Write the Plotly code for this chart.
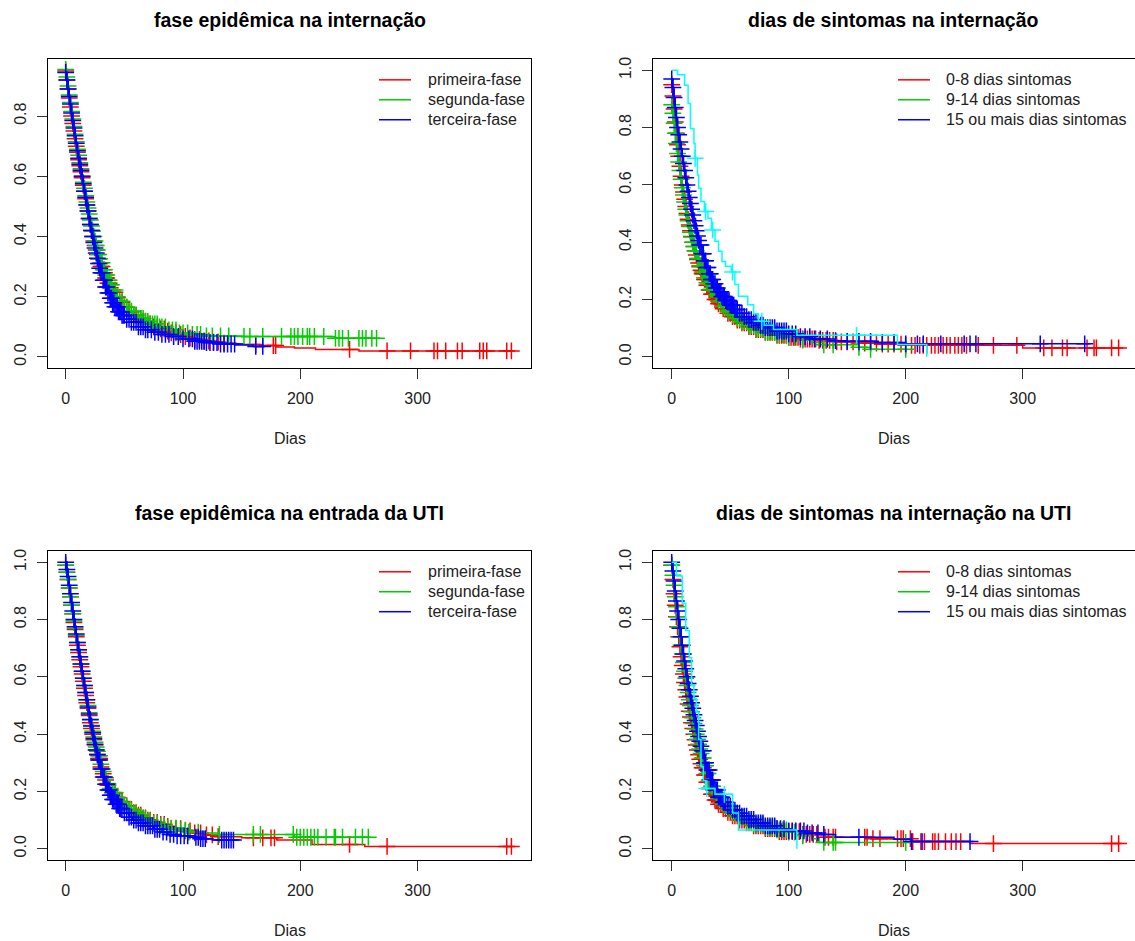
import plotly.graph_objects as go

# ---------------- DATA ----------------
titles = ["fase epidêmica na internação", "dias de sintomas na internação",
          "fase epidêmica na entrada da UTI", "dias de sintomas na internação na UTI"]
legend_fase = ["primeira-fase", "segunda-fase", "terceira-fase"]
legend_sint = ["0-8 dias sintomas", "9-14 dias sintomas", "15 ou mais dias sintomas"]
x_ticks = [0, 100, 200, 300]
y_ticks_p1 = [0.0, 0.2, 0.4, 0.6, 0.8]
y_ticks = [0.0, 0.2, 0.4, 0.6, 0.8, 1.0]

# Panel 1: fase epidêmica na internação
p1_red_t = [0,1,2,3,4,5,6,7,8,9,10,11,12,13,14,15,16,17,18,19,20,21,22,23,24,25,26,27,28,29,30,32,34,36,38,40,43,46,50,54,58,62,66,70,75,80,85,90,95,100,105,110,118,126,135,145,152,165,180,195,213,250,381]
p1_red_s = [0.95,0.92,0.89,0.86,0.83,0.80,0.775,0.75,0.725,0.70,0.68,0.655,0.635,0.615,0.595,0.57,0.55,0.525,0.505,0.485,0.46,0.44,0.42,0.40,0.385,0.37,0.355,0.34,0.325,0.31,0.30,0.28,0.262,0.245,0.23,0.215,0.197,0.182,0.165,0.15,0.138,0.128,0.119,0.11,0.10,0.093,0.086,0.08,0.074,0.068,0.063,0.058,0.053,0.049,0.046,0.043,0.041,0.038,0.033,0.030,0.025,0.02,0.02]
p1_red_c = [0,1,2,3,4,5,6,7,8,9,10,11,12,13,14,15,16,17,18,19,20,21,22,23,24,25,26,27,28,29,30,31,32,33,34,35,36,37,38,40,42,44,46,48,50,52,54,56,58,60,62,64,66,68,70,72,75,78,81,84,87,90,94,98,102,106,110,114,118,122,126,130,135,162,177,179,242,274,294,314,317,324,334,338,353,356,359,376,380]
p1_green_t = [0,1,2,3,4,5,6,7,8,9,10,11,12,13,14,15,16,17,18,19,20,21,22,23,24,25,26,27,28,29,30,32,34,36,38,40,43,46,50,53,57,62,67,72,80,87,95,105,120,150,230,265]
p1_green_s = [0.955,0.93,0.90,0.87,0.845,0.815,0.79,0.765,0.74,0.715,0.69,0.67,0.645,0.625,0.60,0.58,0.56,0.535,0.515,0.495,0.475,0.455,0.435,0.418,0.40,0.385,0.37,0.355,0.34,0.326,0.313,0.29,0.272,0.255,0.24,0.222,0.20,0.185,0.165,0.152,0.14,0.128,0.118,0.11,0.10,0.09,0.08,0.075,0.07,0.068,0.062,0.062]
p1_green_c = [0,1,2,3,4,5,6,7,8,9,10,11,12,13,14,15,16,17,18,19,20,21,22,23,24,25,26,27,28,29,30,31,32,33,34,35,36,37,38,39,40,42,44,46,48,50,52,54,56,58,60,62,64,66,68,70,72,74,76,78,80,82,85,88,91,94,97,100,104,108,112,115,120,125,132,139,152,157,168,184,192,195,198,202,206,208,212,220,230,233,236,241,250,253,256,261,265]
p1_blue_t = [0,1,2,3,4,5,6,7,8,9,10,11,12,13,14,15,16,17,18,19,20,21,22,23,24,25,26,27,28,29,30,32,34,36,38,40,42,45,48,52,56,62,68,75,82,90,100,110,120,130,145,160,170]
p1_blue_s = [0.945,0.92,0.89,0.865,0.84,0.81,0.785,0.76,0.735,0.71,0.685,0.66,0.64,0.62,0.60,0.575,0.55,0.53,0.505,0.485,0.46,0.44,0.42,0.40,0.38,0.362,0.345,0.328,0.31,0.295,0.28,0.255,0.232,0.212,0.195,0.18,0.167,0.15,0.138,0.125,0.115,0.10,0.09,0.082,0.075,0.068,0.06,0.052,0.048,0.043,0.04,0.035,0.035]
p1_blue_c = [0,1,2,3,4,5,6,7,8,9,10,11,12,13,14,15,16,17,18,19,20,21,22,23,24,25,26,27,28,29,30,31,32,33,34,35,36,37,38,39,40,41,42,43,44,45,46,47,48,49,50,52,54,56,58,60,62,64,66,68,70,73,76,79,82,85,88,92,96,100,105,108,110,112,114,116,118,120,123,126,129,132,135,138,141,144,162,168]

# Panel 2: dias de sintomas na internação
p2_red_t = [0,1,2,3,4,5,6,7,8,9,10,11,12,13,14,15,16,17,18,19,20,21,22,23,24,25,26,28,30,32,34,37,40,44,48,52,56,60,66,72,80,90,100,110,125,140,160,180,200,300,386]
p2_red_s = [0.95,0.91,0.865,0.82,0.78,0.74,0.70,0.665,0.63,0.60,0.575,0.55,0.525,0.50,0.48,0.46,0.44,0.42,0.40,0.385,0.37,0.355,0.34,0.327,0.314,0.302,0.29,0.27,0.25,0.233,0.218,0.20,0.185,0.168,0.152,0.14,0.128,0.118,0.105,0.095,0.085,0.075,0.068,0.062,0.057,0.052,0.048,0.044,0.04,0.031,0.031]
p2_red_c = [0,1,2,3,4,5,6,7,8,9,10,11,12,13,14,15,16,17,18,19,20,21,22,23,24,25,26,27,28,29,30,31,32,33,34,35,36,37,38,39,40,42,44,46,48,50,52,54,56,58,60,62,64,66,68,70,72,74,76,78,80,82,84,86,88,90,92,94,96,98,100,102,104,106,108,110,112,114,116,118,120,123,126,129,132,135,138,141,145,150,155,160,165,170,175,180,185,190,196,200,205,208,212,215,218,222,225,228,232,235,238,242,245,248,252,262,275,295,318,325,334,338,355,361,363,376,382]
p2_green_t = [0,1,2,3,4,5,6,7,8,9,10,11,12,13,14,15,16,17,18,19,20,22,24,26,28,30,33,36,40,44,48,52,56,60,66,72,80,90,100,110,120,130,160,170,200]
p2_green_s = [0.88,0.85,0.815,0.78,0.745,0.71,0.68,0.65,0.62,0.59,0.565,0.54,0.515,0.495,0.475,0.455,0.435,0.418,0.40,0.385,0.37,0.343,0.318,0.296,0.276,0.258,0.235,0.216,0.195,0.177,0.16,0.146,0.134,0.123,0.11,0.098,0.087,0.077,0.068,0.058,0.05,0.042,0.033,0.026,0.026]
p2_green_c = [0,1,2,3,4,5,6,7,8,9,10,11,12,13,14,15,16,17,18,19,20,21,22,23,24,25,26,27,28,29,30,31,32,33,34,35,38,40,42,44,46,48,50,52,54,56,58,60,62,64,66,68,70,72,74,76,78,80,82,84,86,88,90,92,95,98,100,105,112,130,138,160,170,200]
p2_blue_t = [0,1,2,3,4,5,6,7,8,9,10,11,12,13,14,15,16,17,18,19,20,21,22,23,24,26,28,30,32,34,36,38,40,43,46,50,54,58,62,66,70,75,80,90,100,110,120,135,150,175,200,358]
p2_blue_s = [0.97,0.94,0.905,0.87,0.835,0.80,0.775,0.75,0.725,0.70,0.675,0.65,0.625,0.60,0.578,0.556,0.535,0.515,0.495,0.475,0.457,0.44,0.422,0.406,0.39,0.36,0.335,0.312,0.29,0.27,0.255,0.24,0.227,0.21,0.196,0.18,0.165,0.152,0.14,0.13,0.12,0.11,0.102,0.09,0.08,0.07,0.062,0.056,0.054,0.05,0.045,0.045]
p2_blue_c = [0,1,2,3,4,5,6,7,8,9,10,11,12,13,14,15,16,17,18,19,20,21,22,23,24,25,26,27,28,29,30,31,32,33,34,35,36,37,38,39,40,41,42,43,44,45,46,47,48,49,50,51,52,53,54,55,56,58,60,62,64,66,68,70,72,74,76,78,80,82,84,86,88,90,92,94,96,98,100,103,106,110,114,118,122,127,133,140,150,160,170,180,190,200,210,215,230,250,255,260,315,353]
p2_cyan_t = [0,5,11,14,16,19,20,22,23,25,28,31,34,37,40,43,46,51,54,57,65,70,74,79,87,107,193,218]
p2_cyan_s = [1.0,0.985,0.948,0.884,0.797,0.745,0.693,0.635,0.588,0.542,0.507,0.484,0.443,0.403,0.368,0.333,0.316,0.296,0.252,0.211,0.182,0.150,0.124,0.110,0.095,0.075,0.043,0.0]
p2_cyan_c = [20,29,35,52,77,158]

# Panel 3: fase epidêmica na entrada da UTI
p3_red_t = [0,1,2,3,4,5,6,7,8,9,10,11,12,13,14,15,16,17,18,19,20,21,22,23,24,25,26,27,28,30,32,34,36,38,40,43,46,50,54,58,62,66,70,75,80,85,90,100,110,120,130,150,180,210,255,381]
p3_red_s = [0.99,0.965,0.94,0.91,0.88,0.85,0.82,0.79,0.765,0.74,0.71,0.685,0.66,0.635,0.61,0.585,0.56,0.535,0.51,0.49,0.465,0.44,0.42,0.40,0.38,0.362,0.345,0.33,0.315,0.285,0.262,0.24,0.222,0.205,0.195,0.18,0.165,0.15,0.137,0.126,0.117,0.108,0.10,0.092,0.085,0.078,0.07,0.062,0.055,0.048,0.042,0.038,0.03,0.015,0.008,0.008]
p3_red_c = [0,1,2,3,4,5,6,7,8,9,10,11,12,13,14,15,16,17,18,19,20,21,22,23,24,25,26,27,28,29,30,32,34,36,38,40,42,44,46,48,50,52,54,56,58,60,62,64,66,68,70,72,75,78,81,84,87,90,94,98,102,106,110,115,120,125,130,160,168,175,178,242,274,376,380]
p3_green_t = [0,1,2,3,4,5,6,7,8,9,10,11,12,13,14,15,16,17,18,19,20,21,22,23,24,25,26,27,28,30,32,34,36,38,40,43,46,50,54,58,62,66,70,75,80,87,95,105,120,130,195,258]
p3_green_s = [0.99,0.965,0.94,0.91,0.88,0.85,0.82,0.795,0.77,0.745,0.72,0.695,0.67,0.645,0.62,0.595,0.57,0.545,0.52,0.50,0.475,0.452,0.43,0.41,0.39,0.372,0.355,0.34,0.325,0.295,0.27,0.248,0.228,0.21,0.196,0.178,0.162,0.147,0.134,0.123,0.113,0.104,0.096,0.088,0.08,0.072,0.065,0.058,0.055,0.05,0.04,0.04]
p3_green_c = [0,1,2,3,4,5,6,7,8,9,10,11,12,13,14,15,16,17,18,19,20,21,22,23,24,25,26,27,28,29,30,32,34,36,38,40,42,44,46,48,50,52,54,56,58,60,62,64,66,68,70,72,75,78,81,84,87,90,94,98,102,105,113,131,160,166,194,197,200,203,206,209,212,215,222,229,230,236,247,253,258]
p3_blue_t = [0,1,2,3,4,5,6,7,8,9,10,11,12,13,14,15,16,17,18,19,20,21,22,23,24,25,26,27,28,30,32,34,36,38,40,43,46,50,54,57,62,68,75,82,87,95,105,115,125,143]
p3_blue_s = [1.0,0.975,0.95,0.92,0.89,0.86,0.83,0.80,0.775,0.75,0.72,0.695,0.67,0.645,0.62,0.595,0.57,0.545,0.52,0.495,0.47,0.45,0.428,0.405,0.385,0.365,0.345,0.328,0.31,0.278,0.25,0.225,0.205,0.187,0.172,0.155,0.14,0.125,0.11,0.10,0.09,0.08,0.068,0.058,0.05,0.045,0.04,0.035,0.03,0.03]
p3_blue_c = [0,1,2,3,4,5,6,7,8,9,10,11,12,13,14,15,16,17,18,19,20,21,22,23,24,25,26,27,28,29,30,31,32,33,34,35,36,37,38,39,40,41,42,43,44,45,46,47,48,50,52,54,56,58,60,62,64,66,68,70,72,74,76,78,80,83,86,89,92,95,98,101,104,111,113,115,117,119,133,135,137,139,141,143]

# Panel 4: dias de sintomas na internação na UTI
p4_red_t = [0,1,2,3,4,5,6,7,8,9,10,11,12,13,14,15,16,17,18,19,20,21,22,23,24,25,26,28,30,32,34,37,40,44,48,52,57,63,70,80,91,110,130,170,205,255,385]
p4_red_s = [0.99,0.94,0.89,0.85,0.81,0.775,0.74,0.705,0.67,0.64,0.61,0.58,0.555,0.53,0.505,0.48,0.46,0.44,0.42,0.40,0.38,0.362,0.345,0.328,0.312,0.297,0.283,0.257,0.232,0.21,0.19,0.17,0.155,0.14,0.127,0.115,0.10,0.09,0.08,0.07,0.06,0.05,0.04,0.035,0.025,0.018,0.018]
p4_red_c = [0,1,2,3,4,5,6,7,8,9,10,11,12,13,14,15,16,17,18,19,20,21,22,23,24,25,26,27,28,29,30,31,32,33,34,35,36,37,38,39,40,42,44,46,48,50,52,54,56,58,60,62,64,66,68,70,72,74,76,78,80,82,84,86,88,90,92,94,96,98,100,103,106,109,112,115,118,121,124,131,134,138,140,165,167,172,178,193,196,198,204,206,213,216,223,225,228,234,239,243,247,275,376,382]
p4_green_t = [0,1,2,3,4,5,6,7,8,9,10,11,12,13,14,15,16,17,18,19,20,21,22,23,24,25,26,28,30,32,34,37,40,44,48,52,57,63,70,80,90,100,112,120,126,200]
p4_green_s = [0.99,0.955,0.92,0.88,0.845,0.81,0.775,0.74,0.71,0.68,0.65,0.62,0.595,0.57,0.545,0.52,0.50,0.478,0.457,0.437,0.418,0.40,0.382,0.365,0.348,0.332,0.317,0.29,0.263,0.24,0.218,0.195,0.175,0.155,0.138,0.124,0.11,0.097,0.086,0.075,0.066,0.058,0.045,0.035,0.022,0.022]
p4_green_c = [0,1,2,3,4,5,6,7,8,9,10,11,12,13,14,15,16,17,18,19,20,21,22,23,24,25,26,27,28,29,30,31,32,33,34,35,38,40,42,44,46,48,50,52,54,56,58,60,62,64,66,68,70,72,74,76,78,80,82,84,86,88,90,92,95,98,100,105,112,130,138,140,200]
p4_blue_t = [0,1,2,3,4,5,6,7,8,9,10,11,12,13,14,15,16,17,18,19,20,21,22,23,24,25,26,28,30,33,36,40,44,48,52,56,60,66,72,80,90,100,115,128,140,190,205,258]
p4_blue_s = [1.0,0.97,0.935,0.90,0.865,0.83,0.80,0.77,0.74,0.71,0.68,0.655,0.628,0.60,0.577,0.555,0.532,0.51,0.49,0.468,0.448,0.43,0.41,0.392,0.375,0.358,0.342,0.30,0.275,0.24,0.205,0.18,0.162,0.148,0.135,0.124,0.114,0.102,0.09,0.08,0.07,0.062,0.055,0.05,0.04,0.033,0.025,0.025]
p4_blue_c = [0,1,2,3,4,5,6,7,8,9,10,11,12,13,14,15,16,17,18,19,20,21,22,23,24,25,26,27,28,29,30,31,32,33,34,35,36,37,38,39,40,41,42,43,44,45,46,48,50,52,54,56,58,60,62,64,66,68,70,72,74,76,78,80,82,84,86,88,90,93,96,100,103,106,110,113,116,120,125,130,160,205,214,255]
p4_cyan_t = [0,4,9,12,15,17,19,21,23,25,27,29,37,52,57,107]
p4_cyan_s = [1.0,0.952,0.857,0.762,0.667,0.571,0.524,0.476,0.381,0.286,0.238,0.21,0.19,0.125,0.065,0.0]
p4_cyan_c = [30, 45]

# ---------------- STYLE ----------------
RED, GREEN, BLUE, CYAN = "#FF0000", "#00CD00", "#0000FF", "#00FFFF"
W, H = 1135, 941
FONT = "Liberation Sans, Arial, sans-serif"

fig = go.Figure()


def surv_at(ts, ss, t):
    v = ss[0]
    for ti, si in zip(ts, ss):
        if ti <= t:
            v = si
        else:
            break
    return v


def add_curve(ts, ss, cs, color, xa, ya):
    fig.add_trace(go.Scatter(x=ts, y=ss, mode="lines", line=dict(color=color, width=1.5, shape="hv"),
                             xaxis=xa, yaxis=ya, showlegend=False, hoverinfo="skip"))
    cy = [surv_at(ts, ss, c) for c in cs]
    fig.add_trace(go.Scatter(x=cs, y=cy, mode="markers",
                             marker=dict(symbol="cross-thin", size=12, color=color,
                                         line=dict(color=color, width=1.5)),
                             xaxis=xa, yaxis=ya, showlegend=False, hoverinfo="skip"))


panels = [
    ("x", "y", [(p1_red_t, p1_red_s, p1_red_c, RED), (p1_green_t, p1_green_s, p1_green_c, GREEN),
                (p1_blue_t, p1_blue_s, p1_blue_c, BLUE)]),
    ("x2", "y2", [(p2_red_t, p2_red_s, p2_red_c, RED), (p2_green_t, p2_green_s, p2_green_c, GREEN),
                  (p2_blue_t, p2_blue_s, p2_blue_c, BLUE), (p2_cyan_t, p2_cyan_s, p2_cyan_c, CYAN)]),
    ("x3", "y3", [(p3_red_t, p3_red_s, p3_red_c, RED), (p3_green_t, p3_green_s, p3_green_c, GREEN),
                  (p3_blue_t, p3_blue_s, p3_blue_c, BLUE)]),
    ("x4", "y4", [(p4_red_t, p4_red_s, p4_red_c, RED), (p4_green_t, p4_green_s, p4_green_c, GREEN),
                  (p4_blue_t, p4_blue_s, p4_blue_c, BLUE), (p4_cyan_t, p4_cyan_s, p4_cyan_c, CYAN)]),
]
for xa, ya, groups in panels:
    for ts, ss, cs, col in groups:
        add_curve(ts, ss, cs, col, xa, ya)

# pixel geometry -> paper
def px_x(p):
    return p / W


def px_y(p):
    return 1 - p / H

LX = (48, 531)
RX = (653, 1135)
TY = (57, 367)
BY = (550, 860)

tickfont = dict(family=FONT, size=16, color="#222222")
common_x = dict(showgrid=False, zeroline=False, showline=True, linecolor="#000000", linewidth=1,
                mirror=True, ticks="outside", ticklen=10, tickwidth=1, tickcolor="#333333",
                tickvals=x_ticks, ticktext=[str(v) for v in x_ticks], tickfont=tickfont,
                ticklabelstandoff=6)
common_y = dict(showgrid=False, zeroline=False, showline=True, linecolor="#000000", linewidth=1,
                ticks="outside", ticklen=10, tickwidth=1, tickcolor="#333333",
                tickfont=tickfont, tickangle=-90, tickformat=".1f", ticklabelstandoff=5)

fig.update_layout(
    width=W, height=H, margin=dict(l=0, r=0, t=0, b=0),
    paper_bgcolor="white", plot_bgcolor="white", showlegend=False,
    xaxis=dict(common_x, domain=[px_x(LX[0]), px_x(LX[1])], range=[-15.1, 396.7], anchor="y"),
    yaxis=dict(common_y, domain=[px_y(TY[1]), px_y(TY[0])], range=[-0.0374, 0.9899], anchor="x",
               tickvals=y_ticks_p1, mirror=True),
    xaxis2=dict(common_x, domain=[px_x(RX[0]), px_x(RX[1])], range=[-16.0, 396.0], anchor="y2"),
    yaxis2=dict(common_y, domain=[px_y(TY[1]), px_y(TY[0])], range=[-0.04, 1.04], anchor="x2",
                tickvals=y_ticks, mirror=False),
    xaxis3=dict(common_x, domain=[px_x(LX[0]), px_x(LX[1])], range=[-15.1, 396.7], anchor="y3"),
    yaxis3=dict(common_y, domain=[px_y(BY[1]), px_y(BY[0])], range=[-0.04, 1.04], anchor="x3",
                tickvals=y_ticks, mirror=True),
    xaxis4=dict(common_x, domain=[px_x(RX[0]), px_x(RX[1])], range=[-16.0, 396.0], anchor="y4"),
    yaxis4=dict(common_y, domain=[px_y(BY[1]), px_y(BY[0])], range=[-0.04, 1.04], anchor="x4",
                tickvals=y_ticks, mirror=False),
)

annotations = []
shapes = []
title_pos = [(289.5, 18), (893, 18), (289.5, 512), (893, 512)]
dias_pos = [(289.5, 437), (894, 437), (289.5, 930), (894, 930)]
for (tx, ty), title in zip(title_pos, titles):
    annotations.append(dict(x=px_x(tx), y=px_y(ty), xref="paper", yref="paper", text="<b>%s</b>" % title,
                            showarrow=False, xanchor="center", yanchor="middle",
                            font=dict(family=FONT, size=19.5, color="#000000")))
for dx, dy in dias_pos:
    annotations.append(dict(x=px_x(dx), y=px_y(dy), xref="paper", yref="paper", text="Dias",
                            showarrow=False, xanchor="center", yanchor="middle",
                            font=dict(family=FONT, size=16, color="#222222")))

legend_specs = [
    (379, 411, 426, [78, 98, 118], legend_fase),
    (898, 930, 944, [78, 98, 118], legend_sint),
    (379, 411, 426, [571, 591, 611], legend_fase),
    (898, 930, 944, [571, 591, 611], legend_sint),
]
for x0, x1, xt, rows, labels in legend_specs:
    for ry, lab, col in zip(rows, labels, [RED, GREEN, BLUE]):
        shapes.append(dict(type="line", xref="paper", yref="paper", x0=px_x(x0), x1=px_x(x1),
                           y0=px_y(ry), y1=px_y(ry), line=dict(color=col, width=1.5)))
        annotations.append(dict(x=px_x(xt), y=px_y(ry), xref="paper", yref="paper", text=lab,
                                showarrow=False, xanchor="left", yanchor="middle",
                                font=dict(family=FONT, size=16, color="#222222")))

fig.update_layout(annotations=annotations, shapes=shapes)
fig.write_html("out.html")
